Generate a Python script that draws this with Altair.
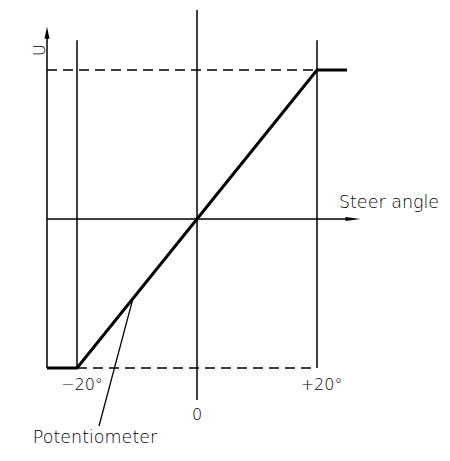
import altair as alt
import pandas as pd

# Potentiometer characteristic: U versus steer angle (degrees)
angle = [-25, -20, 20, 25]
U = [-1, -1, 1, 1]

# tick labels on the angle axis
tick_text = ["\u221220\u00b0", "0", "+20\u00b0"]

# guide lines (vertical)
v_x = [-25, -20, 0, 20]
v_y1 = [-1, -1, -1.215, -1]
v_y2 = [1.26, 1.2, 1.403, 1.2]

# horizontal axis and dashed limits
h_y = [0, 1, -1]
h_x1 = [-25, -25, -20]
h_x2 = [26, 20, 20]

# leader line for the label
lead_x = [-10.67, -16.33]
lead_y = [-0.533, -1.389]

xs = alt.Scale(domain=[-31.5, 40.833], nice=False, zero=False)
ys = alt.Scale(domain=[-1.570, 1.416], nice=False, zero=False)
FONT = "DejaVu Sans"
WEIGHT = 300

curve = alt.Chart(pd.DataFrame({"x": angle, "y": U})).mark_line(
    color="black", strokeWidth=3, strokeCap="butt", strokeJoin="miter"
).encode(x=alt.X("x:Q", scale=xs, axis=None), y=alt.Y("y:Q", scale=ys, axis=None))

vlines = alt.Chart(pd.DataFrame({"x": v_x, "y": v_y1, "y2": v_y2})).mark_rule(
    color="black", strokeWidth=1.5
).encode(x=alt.X("x:Q", scale=xs, axis=None), y=alt.Y("y:Q", scale=ys, axis=None), y2="y2:Q")

hsolid = alt.Chart(pd.DataFrame({"y": h_y[:1], "x": h_x1[:1], "x2": h_x2[:1]})).mark_rule(
    color="black", strokeWidth=1.5
).encode(x=alt.X("x:Q", scale=xs, axis=None), x2="x2:Q", y=alt.Y("y:Q", scale=ys, axis=None))

hdash = alt.Chart(pd.DataFrame({"y": h_y[1:], "x": h_x1[1:], "x2": h_x2[1:]})).mark_rule(
    color="black", strokeWidth=1.5, strokeDash=[10, 6]
).encode(x=alt.X("x:Q", scale=xs, axis=None), x2="x2:Q", y=alt.Y("y:Q", scale=ys, axis=None))

leader = alt.Chart(pd.DataFrame({"x": lead_x, "y": lead_y})).mark_line(
    color="black", strokeWidth=1.3
).encode(x=alt.X("x:Q", scale=xs, axis=None), y=alt.Y("y:Q", scale=ys, axis=None))

up_arrow = alt.Chart(pd.DataFrame({"x": [-25], "y": [1.25]})).mark_point(
    shape="M0,-1L0.42,1L-0.42,1Z", filled=True, color="black", opacity=1, size=144
).encode(x=alt.X("x:Q", scale=xs, axis=None), y=alt.Y("y:Q", scale=ys, axis=None))

right_arrow = alt.Chart(pd.DataFrame({"x": [26.0], "y": [0]})).mark_point(
    shape="M1,0L-1,0.27L-1,-0.27Z", filled=True, color="black", opacity=1, size=225
).encode(x=alt.X("x:Q", scale=xs, axis=None), y=alt.Y("y:Q", scale=ys, axis=None))

ticks = alt.Chart(pd.DataFrame({"x": [-19.17, 0, 20.75], "y": [-1.114, -1.315, -1.114], "t": tick_text})).mark_text(
    font=FONT, fontSize=16, fontWeight=WEIGHT, color="black", align="center", baseline="middle"
).encode(x=alt.X("x:Q", scale=xs, axis=None), y=alt.Y("y:Q", scale=ys, axis=None), text="t:N")

labels = alt.Chart(pd.DataFrame({"x": [32, -17], "y": [0.107, -1.47], "t": ["Steer  angle", "Potentiometer"]})).mark_text(
    font=FONT, fontSize=17.5, fontWeight=WEIGHT, color="black", align="center", baseline="middle"
).encode(x=alt.X("x:Q", scale=xs, axis=None), y=alt.Y("y:Q", scale=ys, axis=None), text="t:N")

ulabel = alt.Chart(pd.DataFrame({"x": [-26.17], "y": [1.134], "t": ["U"]})).mark_text(
    font=FONT, fontSize=16, fontWeight=WEIGHT, color="black", align="center", baseline="middle", angle=270
).encode(x=alt.X("x:Q", scale=xs, axis=None), y=alt.Y("y:Q", scale=ys, axis=None), text="t:N")

chart = alt.layer(
    vlines, hsolid, hdash, leader, curve, up_arrow, right_arrow, ticks, labels, ulabel
).properties(
    width=434, height=445, padding=0, autosize=alt.AutoSizeParams(type="none"), background="white"
).configure_view(stroke=None)

chart.save("out.html", embed_options={"renderer": "svg", "actions": False})
